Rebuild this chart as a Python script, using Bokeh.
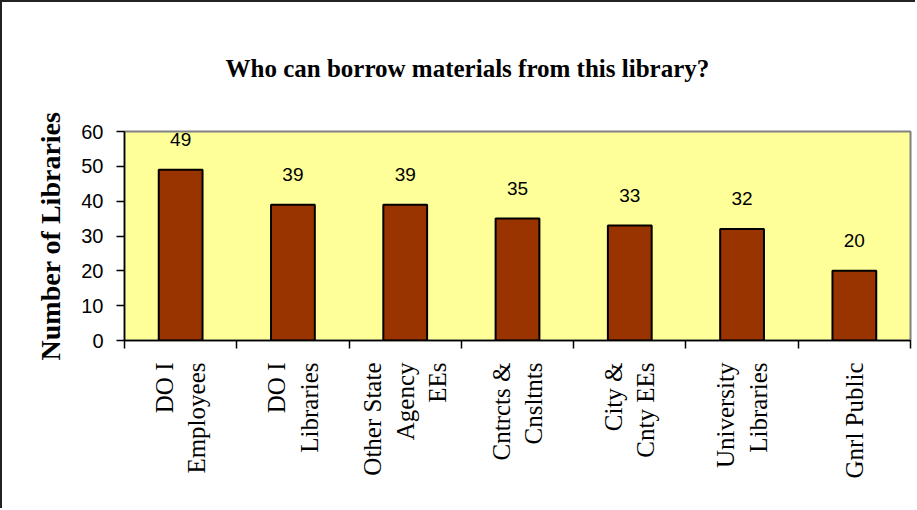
import math
from bokeh.plotting import figure
from bokeh.models import (ColumnDataSource, LabelSet, Range1d, Title,
                          LinearAxis, FixedTicker)
from bokeh.core.properties import value
from bokeh.embed import file_html
from bokeh.resources import INLINE

# ---- data ----
categories = ["DO I\nEmployees", "DO I\nLibraries", "Other State\nAgency\nEEs",
              "Cntrcts &\nCnsltnts", "City &\nCnty EEs", "University\nLibraries",
              "Gnrl Public"]
values = [49, 39, 39, 35, 33, 32, 20]
y_ticks = [0, 10, 20, 30, 40, 50, 60]
title_text = "Who can borrow materials from this library?"
y_label = "Number of Libraries"

n = len(categories)
centers = [i + 0.5 for i in range(n)]
src = ColumnDataSource(dict(x=centers, cat=categories, val=values,
                            lbl=[str(v) for v in values]))

p = figure(width=915, height=508, x_range=Range1d(0, n),
           y_range=Range1d(0, 60), output_backend="svg", toolbar_location=None,
           x_axis_location=None, title=None,
           min_border_left=122, min_border_right=7, min_border_top=127,
           min_border_bottom=170)

p.styles = {"border-left": "2px solid #222", "border-top": "2px solid #222"}

p.background_fill_color = "#FFFF99"
p.border_fill_color = "white"
p.outline_line_color = "#808080"
p.outline_line_width = 2
p.xgrid.visible = False
p.ygrid.visible = False

# chart title, lifted well above the plot area
title = Title(text=title_text, text_font="Liberation Serif",
              text_font_style="bold", text_font_size="25px",
              text_color="black", align="left", offset=101, standoff=100)
p.add_layout(title, "above")

# y axis
ya = p.yaxis[0]
ya.ticker = FixedTicker(ticks=y_ticks)
ya.axis_label = y_label
ya.axis_label_text_font = "Liberation Serif"
ya.axis_label_text_font_style = "bold"
ya.axis_label_text_font_size = "28px"
ya.axis_label_text_color = "black"
ya.axis_label_standoff = 12
ya.major_label_text_font = "Liberation Sans"
ya.major_label_text_font_size = "20px"
ya.major_label_text_color = "black"
ya.major_label_standoff = 13
ya.major_tick_in = 0
ya.major_tick_out = 8
ya.minor_tick_line_color = None
ya.axis_line_color = "black"
ya.axis_line_width = 1.5
ya.major_tick_line_color = "black"
ya.major_tick_line_width = 1.5

# boundary ticks axis (ticks only)
bounds = list(range(n + 1))
tick_axis = LinearAxis(ticker=FixedTicker(ticks=bounds),
                       major_label_overrides={b: "" for b in bounds})
tick_axis.major_label_text_font_size = "1px"
tick_axis.major_label_text_color = None
tick_axis.major_label_standoff = 0
tick_axis.major_tick_in = 0
tick_axis.major_tick_out = 8
tick_axis.minor_tick_line_color = None
tick_axis.axis_line_color = "black"
tick_axis.axis_line_width = 1.5
tick_axis.major_tick_line_width = 1.5
p.add_layout(tick_axis, "below")

# category label axis
cat_axis = LinearAxis(ticker=FixedTicker(ticks=centers),
                      major_label_overrides={c: name for c, name in zip(centers, categories)})
cat_axis.major_tick_line_color = None
cat_axis.minor_tick_line_color = None
cat_axis.axis_line_color = None
cat_axis.major_label_orientation = math.pi / 2
cat_axis.major_label_text_font = "Liberation Serif"
cat_axis.major_label_text_font_size = "25px"
cat_axis.major_label_text_color = "black"
cat_axis.major_label_standoff = 8
p.add_layout(cat_axis, "below")

p.vbar(x="x", top="val", width=0.39, source=src, fill_color="#993300",
       line_color="black", line_width=2)

labels = LabelSet(x="x", y="val", text="lbl", source=src, y_offset=24,
                  text_align="center", text_baseline="alphabetic",
                  text_font=value("Liberation Sans"), text_font_size=value("19px"),
                  text_color="black")
p.add_layout(labels)

open("out.html", "w").write(file_html(p, INLINE))
